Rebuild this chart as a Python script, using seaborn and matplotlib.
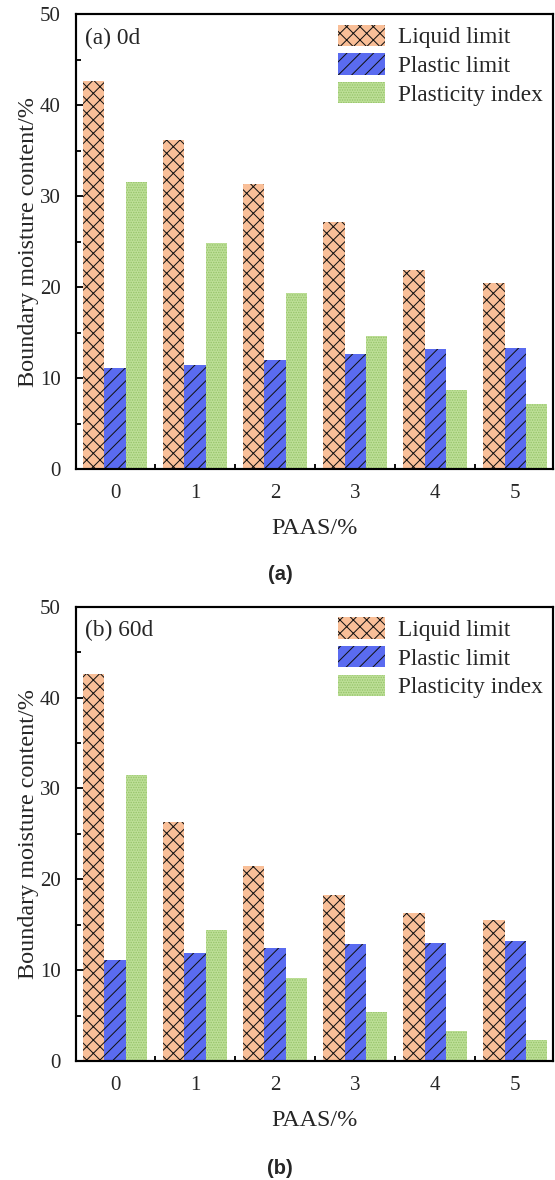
import numpy as np
import pandas as pd
import matplotlib
matplotlib.use("Agg")
import matplotlib.pyplot as plt
from matplotlib.patches import Patch
from matplotlib.ticker import MultipleLocator, FixedLocator
import seaborn as sns

# PAAS dosage (%)
paas = ["0", "1", "2", "3", "4", "5"]
series = ["Liquid limit", "Plastic limit", "Plasticity index"]

# Boundary moisture content (%) after 0 days of curing
liquid_0d = [42.6, 36.2, 31.3, 27.2, 21.9, 20.4]
plastic_0d = [11.1, 11.4, 12.0, 12.6, 13.2, 13.3]
index_0d = [31.5, 24.8, 19.3, 14.6, 8.7, 7.1]

# Boundary moisture content (%) after 60 days of curing
liquid_60d = [42.6, 26.3, 21.5, 18.3, 16.3, 15.5]
plastic_60d = [11.1, 11.9, 12.4, 12.9, 13.0, 13.2]
index_60d = [31.5, 14.4, 9.1, 5.4, 3.3, 2.3]

fills = ["#F9BF98", "#5A6BF0", "#BEDF98"]
hatch_colors = ["#111111", "#111111", "#94C468"]
hatches = ["xxx", "///", "........"]

sns.set_style("white")
plt.rcParams["font.family"] = ["Liberation Serif", "DejaVu Serif"]
plt.rcParams["mathtext.fontset"] = "stix"
plt.rcParams["hatch.linewidth"] = 0.6

fig = plt.figure(figsize=(555 / 120, 1180 / 120), dpi=120)
ax_a = fig.add_axes([0.1364, 0.6025, 0.860, 0.3856])
ax_b = fig.add_axes([0.1364, 0.1008, 0.860, 0.3850])


def long_table(liquid, plastic, index):
    rows = []
    for name, vals in zip(series, [liquid, plastic, index]):
        for p, v in zip(paas, vals):
            rows.append({"PAAS": p, "series": name, "value": v})
    return pd.DataFrame(rows)


def draw_panel(ax, liquid, plastic, index, tag):
    df = long_table(liquid, plastic, index)
    sns.barplot(data=df, x="PAAS", y="value", hue="series",
                order=paas, hue_order=series, palette=fills,
                saturation=1, width=0.8, errorbar=None, legend=False, ax=ax)
    for cont, hc, h in zip(ax.containers, hatch_colors, hatches):
        for bar in cont.patches:
            bar.set_edgecolor(hc)
            bar.set_linewidth(0)
            bar.set_hatch(h)

    ax.set_ylim(0, 50)
    ax.set_xlim(-0.49, 5.47)
    ax.yaxis.set_major_locator(MultipleLocator(10))
    ax.yaxis.set_minor_locator(MultipleLocator(5))
    ax.xaxis.set_minor_locator(FixedLocator([0.5, 1.5, 2.5, 3.5, 4.5]))
    ax.tick_params(axis="both", which="both", direction="in",
                   top=False, right=False, bottom=True, left=True,
                   width=1.1, color="black")
    ax.tick_params(axis="both", which="major", length=5, labelsize=12.5, pad=9)
    ax.tick_params(axis="both", which="minor", length=3)
    for sp in ax.spines.values():
        sp.set_visible(True)
        sp.set_color("black")
        sp.set_linewidth(1.3)

    ax.set_xlabel("PAAS/%", fontsize=14.5, labelpad=9)
    ax.set_ylabel("Boundary moisture content/%", fontsize=14.5, labelpad=0.5)
    ax.text(0.02, 0.947, tag, transform=ax.transAxes, fontsize=14,
            ha="left", va="center")

    handles = []
    for c, hc, h, name in zip(fills, hatch_colors, hatches, series):
        handles.append(Patch(facecolor=c, edgecolor=hc, linewidth=0,
                             hatch=h, label=name))
    ax.legend(handles=handles, loc="upper right", frameon=False,
              fontsize=14, handlelength=2.0, handleheight=1.03,
              handletextpad=0.55, labelspacing=0.22,
              borderaxespad=0.15, borderpad=0.3)


draw_panel(ax_a, liquid_0d, plastic_0d, index_0d, "(a) 0d")
draw_panel(ax_b, liquid_60d, plastic_60d, index_60d, "(b) 60d")

cap_font = ["Liberation Sans", "DejaVu Sans"]
fig.text(280 / 555, 1 - 575 / 1180, "(a)", fontsize=12, fontweight="bold",
         family=cap_font, ha="center", va="center")
fig.text(280 / 555, 1 - 1168 / 1180, "(b)", fontsize=12, fontweight="bold",
         family=cap_font, ha="center", va="center")

fig.savefig("out.png", dpi=120)
